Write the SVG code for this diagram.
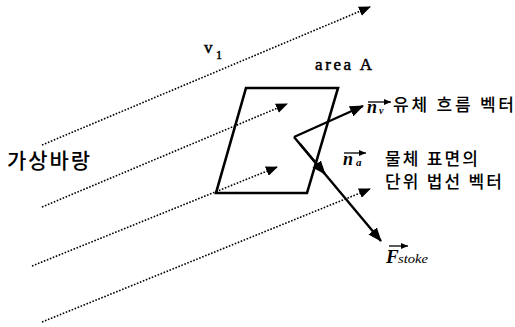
<svg xmlns="http://www.w3.org/2000/svg" width="515" height="327" viewBox="0 0 515 327">
<style>
.flow{stroke:#000;stroke-width:1.6;stroke-dasharray:1.6 1.6;fill:none}
.solid{stroke:#000;stroke-width:2.6;fill:none}
.vec{stroke:#000;stroke-width:2.4;fill:none}
.kr{font-family:"Noto Sans CJK KR","Noto Sans",sans-serif;font-weight:500;fill:#000}
.serif{font-family:"Liberation Serif","Times New Roman",serif;fill:#000}
.heavy{stroke:#000;stroke-width:0.5}
.sym{font-family:"Liberation Serif","Times New Roman",serif;font-style:italic;font-weight:bold;fill:#000}
.ov{stroke:#000;stroke-width:1.3;fill:none}
</style>
<defs>
<marker id="ah" viewBox="0 0 12 10" refX="11" refY="5" markerWidth="12" markerHeight="10" markerUnits="userSpaceOnUse" orient="auto"><path d="M0,0 L12,5 L0,10 z" fill="#000"/></marker>
<marker id="ahb" viewBox="0 0 14 11" refX="13" refY="5.5" markerWidth="14" markerHeight="11" markerUnits="userSpaceOnUse" orient="auto"><path d="M0,0 L14,5.5 L0,11 z" fill="#000"/></marker>
<marker id="ahs" viewBox="0 0 7 6" refX="7" refY="3" markerWidth="7" markerHeight="6" markerUnits="userSpaceOnUse" orient="auto"><path d="M0,0 L7,3 L0,6 z" fill="#000"/></marker>
</defs>
<g id="connectors">
<line class="flow" x1="42" y1="145" x2="370" y2="7" marker-end="url(#ah)"/>
<line class="flow" x1="42" y1="207" x2="287" y2="104" marker-end="url(#ah)"/>
<line class="flow" x1="32" y1="266" x2="277" y2="167" marker-end="url(#ah)"/>
<line class="flow" x1="42" y1="322" x2="370" y2="189" marker-end="url(#ah)"/>
<line class="vec" x1="294" y1="137" x2="363" y2="106" marker-end="url(#ahb)"/>
<line class="vec" x1="294" y1="137" x2="381" y2="241" marker-end="url(#ahb)"/>
<line class="vec" x1="300" y1="144" x2="325" y2="174" marker-end="url(#ahb)"/>
</g>
<g id="areaA">
<path class="solid" d="M246,88 L338,88 L307,193 L216,193 Z"/>
<text class="serif heavy" x="315" y="70" font-size="17" textLength="57" lengthAdjust="spacing">area A</text>
</g>
<g id="v1">
<text class="serif heavy" x="204" y="53" font-size="17">v</text>
<text class="serif heavy" x="216" y="59" font-size="12">1</text>
</g>
<g id="wind">
<text class="kr" x="7" y="168" font-size="21" textLength="83" lengthAdjust="spacing">가상바랑</text>
</g>
<g id="nv">
<text class="sym" x="367" y="113" font-size="18">n</text>
<text class="sym" x="379" y="114" font-size="10">v</text>
<line class="ov" x1="368" y1="102" x2="391" y2="102" marker-end="url(#ahs)"/>
<text class="kr" x="393" y="111" font-size="17" textLength="121" lengthAdjust="spacing">유체 흐름 벡터</text>
</g>
<g id="na">
<text class="sym" x="343" y="165" font-size="18">n</text>
<text class="sym" x="356" y="166" font-size="11">a</text>
<line class="ov" x1="344" y1="153" x2="366" y2="153" marker-end="url(#ahs)"/>
<text class="kr" x="385" y="165" font-size="17" textLength="93" lengthAdjust="spacing">물체 표면의</text>
<text class="kr" x="385" y="188" font-size="17" textLength="117" lengthAdjust="spacing">단위 법선 벡터</text>
</g>
<g id="fstoke">
<text class="sym" x="386" y="263" font-size="19">F</text>
<text class="serif" x="398" y="263" font-size="13" font-style="italic" textLength="30" lengthAdjust="spacingAndGlyphs">stoke</text>
<line class="ov" x1="389" y1="246" x2="408" y2="246" marker-end="url(#ahs)"/>
</g>
</svg>
